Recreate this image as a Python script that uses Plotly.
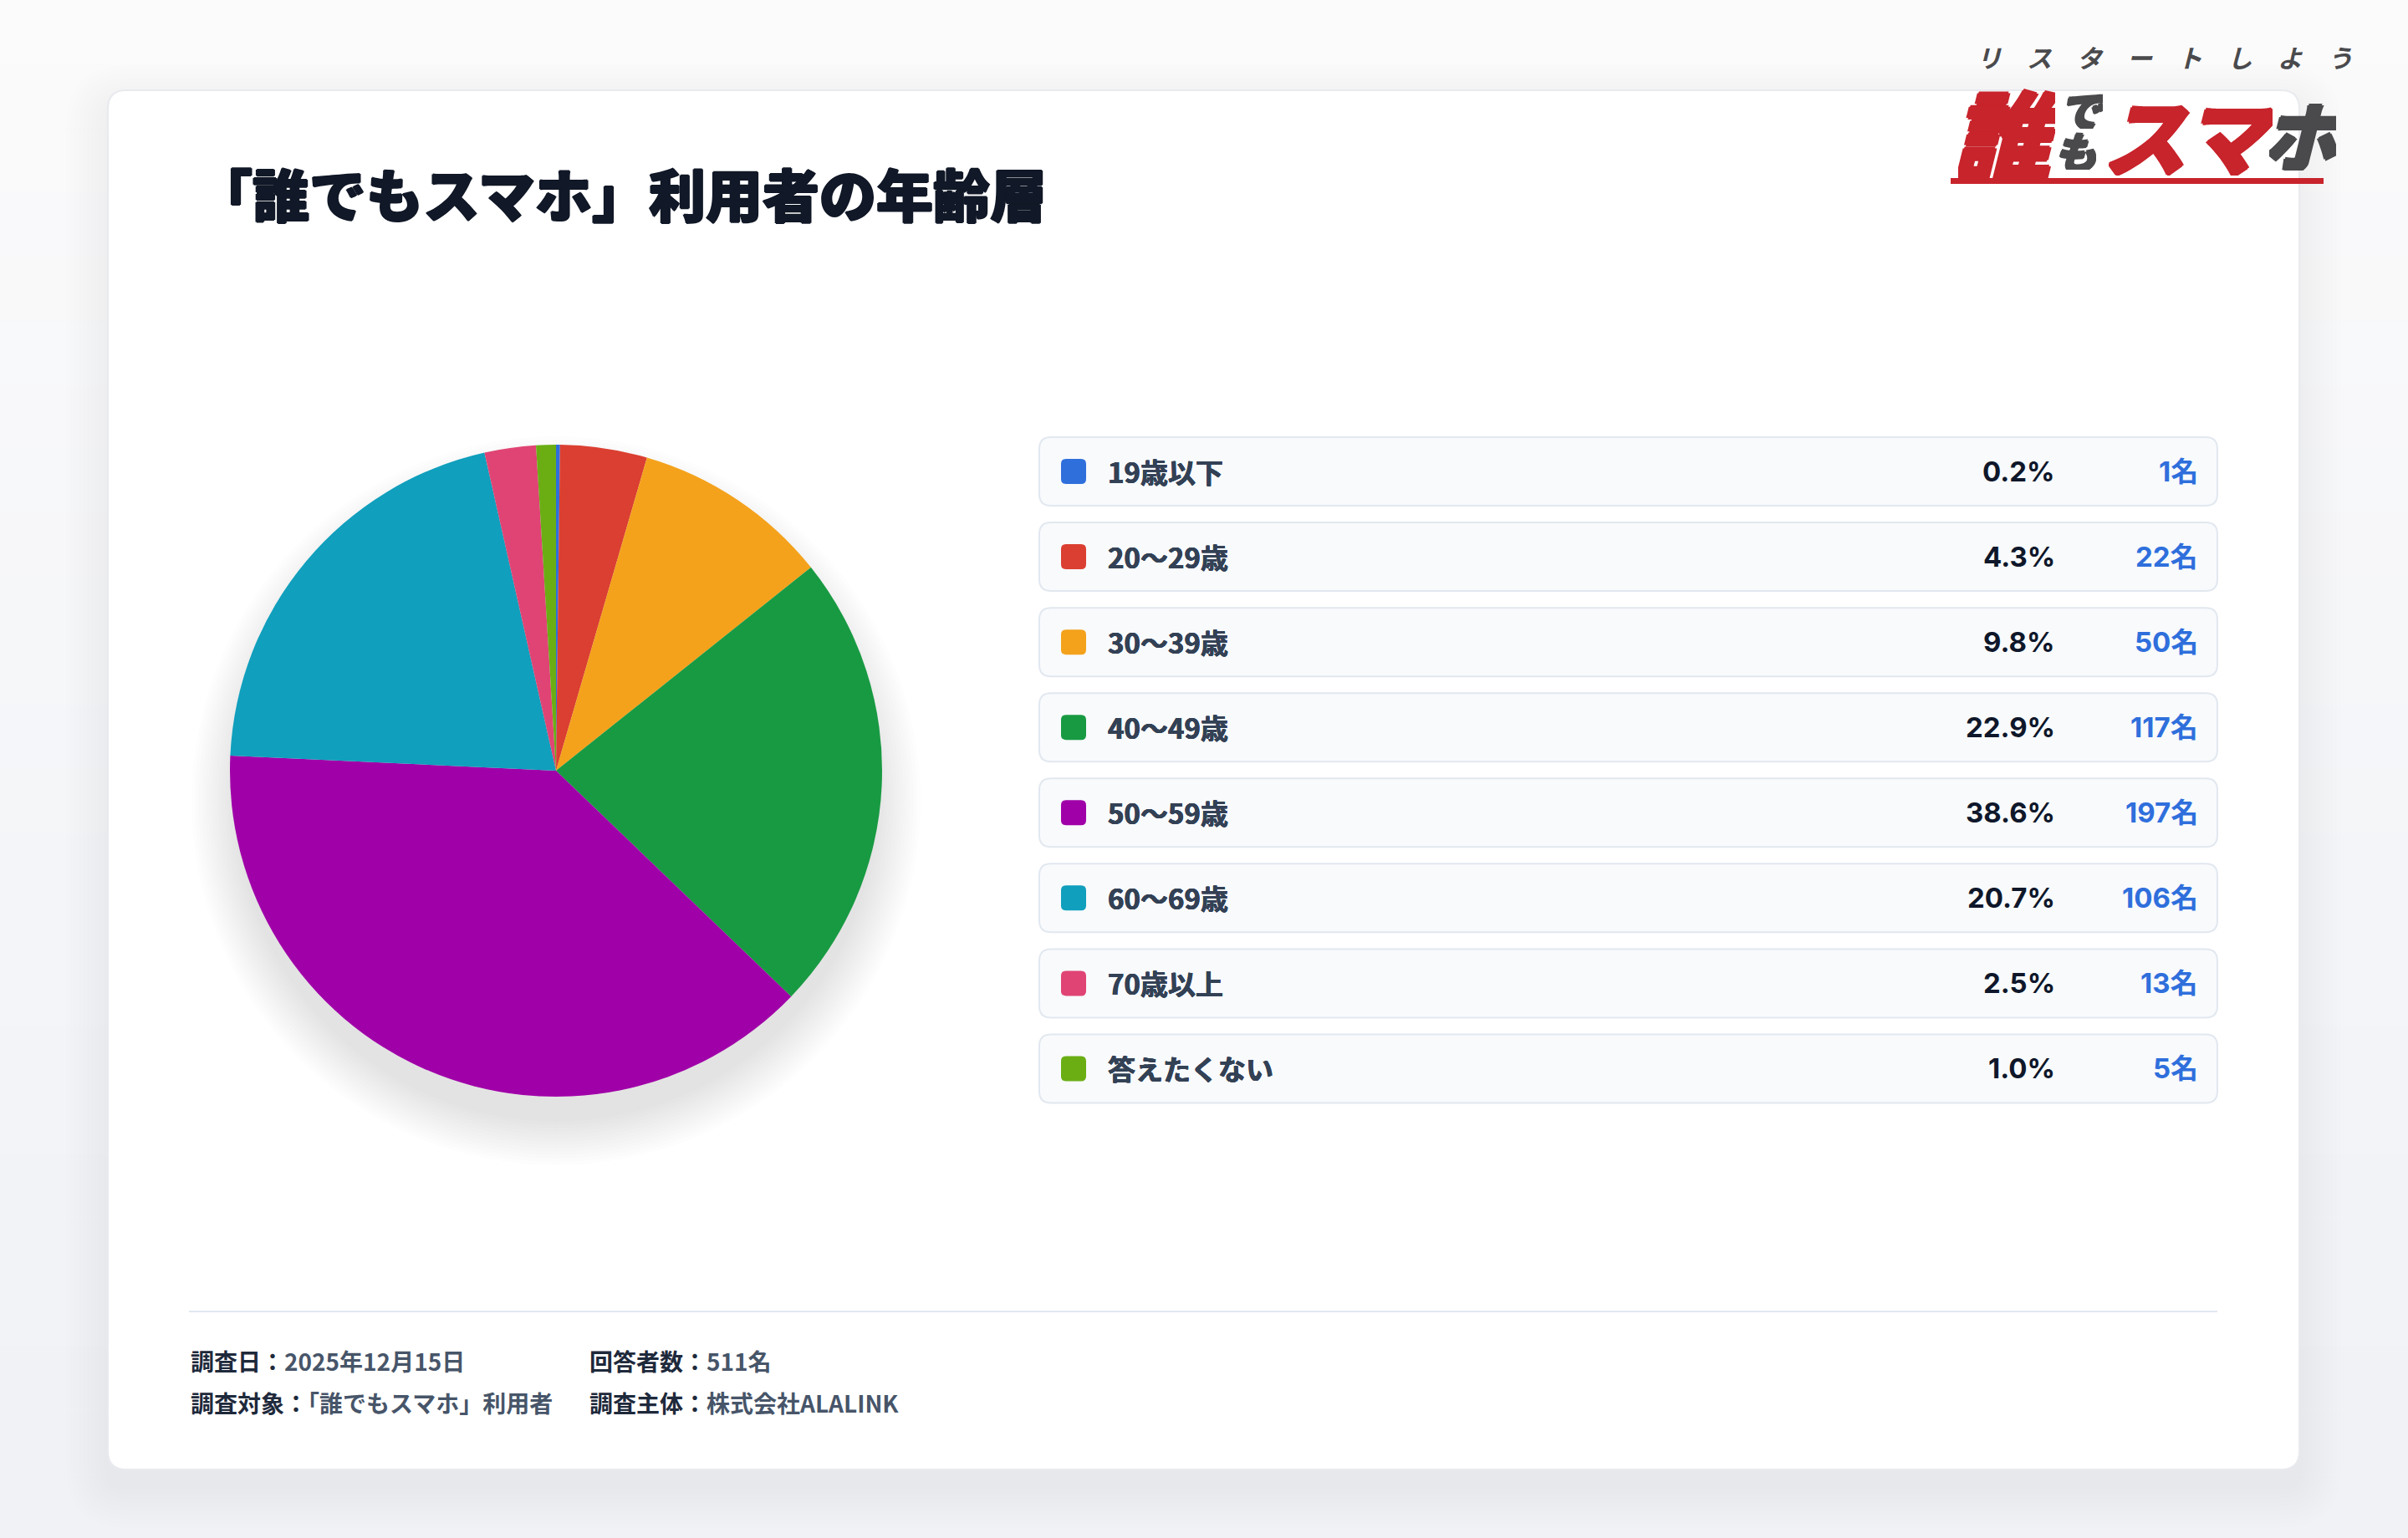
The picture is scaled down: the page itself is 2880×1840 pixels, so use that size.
import plotly.graph_objects as go

W, H = 2880, 1840

# ---------------- data ----------------
categories = ["19歳以下", "20〜29歳", "30〜39歳", "40〜49歳", "50〜59歳", "60〜69歳", "70歳以上", "答えたくない"]
counts = [1, 22, 50, 117, 197, 106, 13, 5]
percents = ["0.2%", "4.3%", "9.8%", "22.9%", "38.6%", "20.7%", "2.5%", "1.0%"]
colors = ["#2f6fdc", "#db3f31", "#f4a21c", "#189a42", "#a000a8", "#109fbd", "#e04474", "#6aae14"]

title_text = "「誰でもスマホ」利用者の年齢層"
footer_rows = [
    [("調査日：", "2025年12月15日"), ("回答者数：", "511名")],
    [("調査対象：", "「誰でもスマホ」利用者"), ("調査主体：", "株式会社ALALINK")],
]
tagline = "リスタートしよう"

JP = "Noto Sans CJK JP"


def px(x):
    return x / W


def py(y):
    return 1 - y / H


def thick(color, d=1.0):
    return (f"{d}px 0 0 {color}, -{d}px 0 0 {color}, 0 {d}px 0 {color}, 0 -{d}px 0 {color}")


def rrect(x0, y0, x1, y1, r):
    pts = [
        f"M{px(x0 + r)},{py(y0)}",
        f"L{px(x1 - r)},{py(y0)}",
        f"Q{px(x1)},{py(y0)} {px(x1)},{py(y0 + r)}",
        f"L{px(x1)},{py(y1 - r)}",
        f"Q{px(x1)},{py(y1)} {px(x1 - r)},{py(y1)}",
        f"L{px(x0 + r)},{py(y1)}",
        f"Q{px(x0)},{py(y1)} {px(x0)},{py(y1 - r)}",
        f"L{px(x0)},{py(y0 + r)}",
        f"Q{px(x0)},{py(y0)} {px(x0 + r)},{py(y0)}",
        "Z",
    ]
    return " ".join(pts)


shapes = []
annotations = []

# background gradient bands
nb = 24
for i in range(nb):
    t = i / (nb - 1)
    c0 = (251, 251, 252)
    c1 = (240, 242, 246)
    c = tuple(int(c0[k] + (c1[k] - c0[k]) * t) for k in range(3))
    shapes.append(dict(type="rect", xref="paper", yref="paper",
                       x0=0, x1=1, y0=py(H * (i + 1) / nb), y1=py(H * i / nb),
                       fillcolor=f"rgb{c}", line=dict(width=0), layer="below"))

# card shadow
CX0, CY0, CX1, CY1 = 129, 108, 2750, 1758
for k in range(10, 0, -1):
    e = k * 5
    shapes.append(dict(type="path", xref="paper", yref="paper",
                       path=rrect(CX0 - e, CY0 - e + 20, CX1 + e, CY1 + e + 20, 22 + e),
                       fillcolor="rgba(30,41,59,0.005)", line=dict(width=0), layer="below"))
# card
shapes.append(dict(type="path", xref="paper", yref="paper",
                   path=rrect(CX0, CY0, CX1, CY1, 22),
                   fillcolor="#ffffff", line=dict(color="#e8eaee", width=2), layer="below"))

# pie geometry + soft shadow
PCX, PCY, PR = 665, 922, 390
for k in range(14, 0, -1):
    rr = PR - 10 + k * 4
    oy = 36
    shapes.append(dict(type="circle", xref="paper", yref="paper",
                       x0=px(PCX - rr), x1=px(PCX + rr), y0=py(PCY + oy + rr), y1=py(PCY + oy - rr),
                       fillcolor="rgba(30,41,59,0.009)", line=dict(width=0), layer="below"))

# legend rows
ROW0, ROWSTEP, ROWH = 564, 102.07, 82
LX0, LX1 = 1243, 2652
for i, (cat, cnt, pct, col) in enumerate(zip(categories, counts, percents, colors)):
    yc = ROW0 + i * ROWSTEP
    shapes.append(dict(type="path", xref="paper", yref="paper",
                       path=rrect(LX0, yc - ROWH / 2, LX1, yc + ROWH / 2, 14),
                       fillcolor="#f8fafc", line=dict(color="#e2e8f0", width=2), layer="below"))
    shapes.append(dict(type="path", xref="paper", yref="paper",
                       path=rrect(1269, yc - 15, 1299, yc + 15, 6),
                       fillcolor=col, line=dict(width=0), layer="below"))
    annotations.append(dict(x=px(1323), y=py(yc), xref="paper", yref="paper", xanchor="left", yanchor="middle",
                            text=f"<b>{cat}</b>", showarrow=False,
                            font=dict(family=f"{JP}, Inter", size=33, color="#334155", weight=700,
                                      shadow=thick("#334155", 0.4))))
    annotations.append(dict(x=px(2460), y=py(yc), xref="paper", yref="paper", xanchor="right", yanchor="middle",
                            text=f"<b>{pct}</b>", showarrow=False,
                            font=dict(family=f"Inter, {JP}", size=33, color="#0f172a", weight=700)))
    annotations.append(dict(x=px(2631), y=py(yc), xref="paper", yref="paper", xanchor="right", yanchor="middle",
                            text=f"<b>{cnt}名</b>", showarrow=False,
                            font=dict(family=f"Inter, {JP}", size=33, color="#2f6fdc", weight=700)))

# title
annotations.append(dict(x=px(232), y=py(230), xref="paper", yref="paper", xanchor="left", yanchor="middle",
                        text=title_text, showarrow=False,
                        font=dict(family=JP, size=68, color="#111827", weight=900,
                                  shadow=thick("#111827", 1.2))))

# footer
shapes.append(dict(type="line", xref="paper", yref="paper", x0=px(226), x1=px(2652), y0=py(1569), y1=py(1569),
                   line=dict(color="#e2e8f0", width=2), layer="below"))
fx = [226, 703]
fy = [1628, 1678]
for r, row in enumerate(footer_rows):
    for c, (lab, val) in enumerate(row):
        annotations.append(dict(x=px(fx[c]), y=py(fy[r]), xref="paper", yref="paper", xanchor="left",
                                yanchor="middle", showarrow=False,
                                text=f"<b>{lab}</b><span style='color:#475569'>{val}</span>",
                                font=dict(family=JP, size=28, color="#1e293b", weight=700)))

# logo
annotations.append(dict(x=px(2589), y=py(68), xref="paper", yref="paper", xanchor="center", yanchor="middle",
                        text="<b>" + "\u3000".join(tagline) + "</b>", showarrow=False, height=36,
                        font=dict(family=JP, size=30, color="#4a4a4d", weight=900, style="italic")))
LOGO_RED = "#c8242c"
LOGO_DARK = "#4a4a4d"
annotations.append(dict(x=px(2400), y=py(157), xref="paper", yref="paper", xanchor="center", yanchor="middle",
                        text="誰", showarrow=False, width=116, height=112, borderpad=0,
                        font=dict(family=JP, size=118, color=LOGO_RED, weight=900, style="italic",
                                  shadow=thick(LOGO_RED, 2.0))))
annotations.append(dict(x=px(2490), y=py(131), xref="paper", yref="paper", xanchor="center", yanchor="middle",
                        text="で", showarrow=False, width=50, height=46, borderpad=0,
                        font=dict(family=JP, size=52, color=LOGO_DARK, weight=900, style="italic",
                                  shadow=thick(LOGO_DARK, 1.2))))
annotations.append(dict(x=px(2482), y=py(180), xref="paper", yref="paper", xanchor="center", yanchor="middle",
                        text="も", showarrow=False, width=50, height=46, borderpad=0,
                        font=dict(family=JP, size=52, color=LOGO_DARK, weight=900, style="italic",
                                  shadow=thick(LOGO_DARK, 1.2))))
annotations.append(dict(x=px(2620), y=py(160), xref="paper", yref="paper", xanchor="center", yanchor="middle",
                        text="スマ", showarrow=False, width=196, height=100, borderpad=0,
                        font=dict(family=JP, size=101, color=LOGO_RED, weight=900, style="italic",
                                  shadow=thick(LOGO_RED, 2.0))))
annotations.append(dict(x=px(2754), y=py(160), xref="paper", yref="paper", xanchor="center", yanchor="middle",
                        text="ホ", showarrow=False, width=80, height=88, borderpad=0,
                        font=dict(family=JP, size=90, color=LOGO_DARK, weight=900, style="italic",
                                  shadow=thick(LOGO_DARK, 2.0))))
shapes.append(dict(type="rect", xref="paper", yref="paper", x0=px(2333), x1=px(2779), y0=py(220), y1=py(213),
                   fillcolor=LOGO_RED, line=dict(width=0), layer="above"))

fig = go.Figure()
fig.add_trace(go.Pie(
    labels=categories, values=counts, sort=False, direction="clockwise", rotation=0,
    marker=dict(colors=colors, line=dict(width=0)),
    textinfo="none", hoverinfo="label+value+percent", showlegend=False,
    domain=dict(x=[px(PCX - PR), px(PCX + PR)], y=[py(PCY + PR), py(PCY - PR)]),
))

fig.update_layout(
    width=W, height=H, margin=dict(l=0, r=0, t=0, b=0),
    paper_bgcolor="#f5f6f8", plot_bgcolor="rgba(0,0,0,0)",
    shapes=shapes, annotations=annotations, showlegend=False,
)

fig.write_html("out.html", config={"displayModeBar": False},
               post_script="document.body.style.margin='0';document.body.style.overflow='hidden';")
